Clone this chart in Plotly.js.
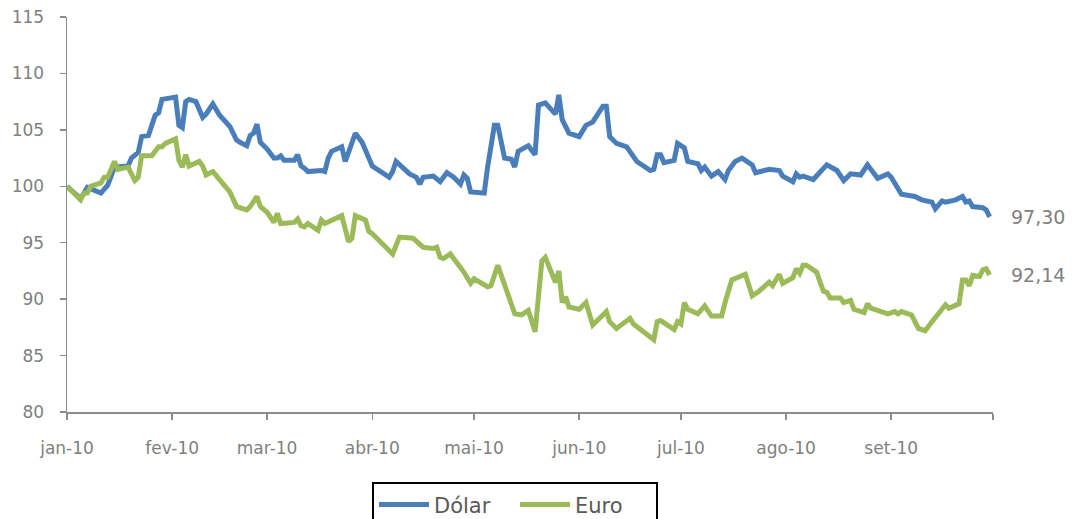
<!DOCTYPE html>
<html>
<head>
<meta charset="utf-8">
<script src="https://cdn.plot.ly/plotly-3.0.1.min.js"></script>
<style>
html,body{margin:0;padding:0;background:#fff;}
#chart{width:1072px;height:519px;}
</style>
</head>
<body>
<div id="chart"></div>
<script>
// Day of year 2010 (0 = 1 Jan 2010) and index values (base 100)
const dolarDay = [0,4,6,8,10,12,13,14,18,19,21,22,24,26,27,28,32,33,34,35,36,38,40,41,43,45,48,50,51,53,54,55,56,57,59,61,62,63,64,67,68,69,70,71,75,76,77,78,81,82,83,85,87,90,95,96,97,99,101,103,104,105,108,110,112,114,116,117,118,119,123,124,126,127,129,131,132,133,136,138,139,141,144,145,146,148,151,153,155,158,159,160,162,165,168,172,173,174,175,176,179,180,182,183,186,187,188,190,192,194,195,197,199,202,203,207,210,211,214,215,216,217,220,224,227,229,231,234,236,239,242,243,246,250,252,255,256,258,259,262,264,265,266,267,270,271,272];
const dolarVal = [100.0,98.9,99.9,99.7,99.4,100.1,101.0,101.7,101.8,102.5,103.0,104.4,104.5,106.3,106.5,107.7,107.9,105.4,105.2,107.5,107.7,107.5,106.1,106.4,107.3,106.3,105.3,104.1,103.9,103.6,104.5,104.7,105.5,103.9,103.3,102.5,102.5,102.7,102.3,102.3,102.8,101.8,101.6,101.3,101.4,101.3,102.5,103.1,103.5,102.2,103.0,104.7,103.9,101.8,100.8,101.3,102.2,101.7,101.1,100.8,100.2,100.8,100.9,100.4,101.2,100.8,100.2,101.0,100.7,99.5,99.4,101.7,105.4,105.4,102.5,102.4,101.7,103.1,103.6,102.8,107.2,107.4,106.4,108.1,105.9,104.7,104.4,105.4,105.7,107.1,107.1,104.4,103.8,103.5,102.2,101.4,101.5,102.8,102.8,102.1,102.3,103.8,103.4,102.2,102.0,101.4,101.7,100.9,101.3,100.6,101.4,102.2,102.5,101.9,101.2,101.5,101.4,100.9,100.4,101.1,100.8,100.9,100.6,101.9,101.4,100.5,101.1,101.0,101.9,100.7,101.1,100.8,99.3,99.1,98.8,98.6,98.0,98.7,98.6,98.8,99.1,98.6,98.7,98.2,98.1,97.9,97.30];

const euroDay = [0,4,5,6,7,10,11,12,14,15,18,20,21,22,25,27,28,29,32,33,34,35,36,39,40,41,43,48,50,53,54,56,57,59,61,62,63,67,68,69,70,71,74,75,76,78,81,83,84,85,88,89,90,96,98,102,105,108,109,110,111,113,116,117,119,120,124,125,127,130,132,134,136,138,140,141,144,145,146,147,148,151,153,155,159,160,162,166,167,173,174,175,179,180,181,182,183,186,188,190,193,194,196,200,202,204,207,208,210,211,214,215,216,217,218,221,223,224,225,228,229,231,232,235,236,237,242,244,245,246,249,251,253,255,259,260,263,264,265,266,267,269,270,271,272];
const euroVal = [100.0,98.8,99.4,99.4,100.0,100.3,100.8,100.8,102.2,101.5,101.7,100.5,100.8,102.7,102.7,103.5,103.5,103.8,104.2,102.3,101.7,102.8,101.8,102.2,101.8,101.0,101.3,99.5,98.2,97.9,98.2,99.1,98.2,97.7,96.8,97.6,96.7,96.8,97.1,96.5,96.4,96.7,96.1,97.0,96.7,97.0,97.4,95.1,95.4,97.4,97.0,96.0,95.8,94.0,95.5,95.4,94.6,94.5,94.6,93.7,93.6,94.0,92.8,92.4,91.4,91.8,91.1,91.2,93.0,90.5,88.7,88.6,89.0,87.1,93.4,93.7,91.5,92.5,89.7,90.2,89.3,89.1,89.7,87.7,88.9,88.0,87.4,88.3,87.8,86.4,88.0,88.1,87.3,88.0,87.8,89.7,89.1,88.7,89.4,88.5,88.5,89.7,91.7,92.2,90.3,90.7,91.5,91.2,92.2,91.4,91.9,92.7,92.3,93.0,93.0,92.4,90.7,90.6,90.1,90.1,89.7,89.9,89.1,88.8,89.6,89.2,88.7,88.9,88.7,88.9,88.6,87.4,87.2,88.0,89.5,89.2,89.6,91.7,91.7,91.2,92.1,92.0,92.6,92.7,92.14];

const seriesNames = ['Dólar','Euro'];
const monthTicks = ['2010-01-01','2010-02-01','2010-03-01','2010-04-01','2010-05-01','2010-06-01','2010-07-01','2010-08-01','2010-09-01','2010-10-01'];
const monthLabels = ['jan-10','fev-10','mar-10','abr-10','mai-10','jun-10','jul-10','ago-10','set-10',''];

function toDate(n){
  const d = new Date(Date.UTC(2010,0,1+n));
  return d.toISOString().slice(0,10);
}
const fmt = v => v.toFixed(2).replace('.',',');

const FONT = 'DejaVu Sans, Verdana, sans-serif';
const GREY = '#7f7f7f';

const dolarX = dolarDay.map(toDate);
const euroX = euroDay.map(toDate);

const traces = [
  {x: dolarX, y: dolarVal, name: seriesNames[0], type:'scatter', mode:'lines',
   line:{color:'#4a7ebb', width:5}},
  {x: euroX, y: euroVal, name: seriesNames[1], type:'scatter', mode:'lines',
   line:{color:'#9bbb59', width:5}}
];

const annotations = [
  {x: dolarX[dolarX.length-1], y: dolarVal[dolarVal.length-1], text: fmt(dolarVal[dolarVal.length-1])},
  {x: euroX[euroX.length-1], y: euroVal[euroVal.length-1], text: fmt(euroVal[euroVal.length-1])}
].map(a => Object.assign(a, {xref:'x', yref:'y', xanchor:'left', yanchor:'middle',
  xshift:19, showarrow:false, font:{family:FONT, size:19, color:GREY}}));

const layout = {
  width:1072, height:519,
  margin:{l:67, r:79, t:17, b:107, autoexpand:false},
  paper_bgcolor:'#fff', plot_bgcolor:'#fff',
  showlegend:true,
  font:{family:FONT, size:17, color:GREY},
  xaxis:{
    type:'date',
    range:['2010-01-01','2010-10-01'],
    tickmode:'array', tickvals:monthTicks, ticktext:monthLabels,
    showgrid:false, zeroline:false,
    showline:true, linecolor:'#8c8c8c', linewidth:1.5,
    ticks:'outside', ticklen:6, tickcolor:'#8c8c8c', tickwidth:1.5,
    ticklabelstandoff:14,
    tickfont:{family:FONT, size:17, color:GREY}
  },
  yaxis:{
    range:[80,115],
    tickmode:'linear', tick0:80, dtick:5,
    showgrid:false, zeroline:false,
    showline:true, linecolor:'#8c8c8c', linewidth:1.5,
    ticks:'outside', ticklen:6, tickcolor:'#8c8c8c', tickwidth:1.5,
    ticklabelstandoff:12,
    tickfont:{family:FONT, size:17, color:GREY}
  },
  legend:{
    orientation:'h', x:0.4838, xanchor:'center', y:-0.178, yanchor:'top',
    bordercolor:'#000', borderwidth:2, bgcolor:'#fff',
    font:{family:FONT, size:21, color:'#595959'},
    itemwidth:50, tracegroupgap:0, entrywidth:76
  },
  annotations: annotations
};

Plotly.newPlot('chart', traces, layout, {displayModeBar:false, staticPlot:true});
</script>
</body>
</html>
